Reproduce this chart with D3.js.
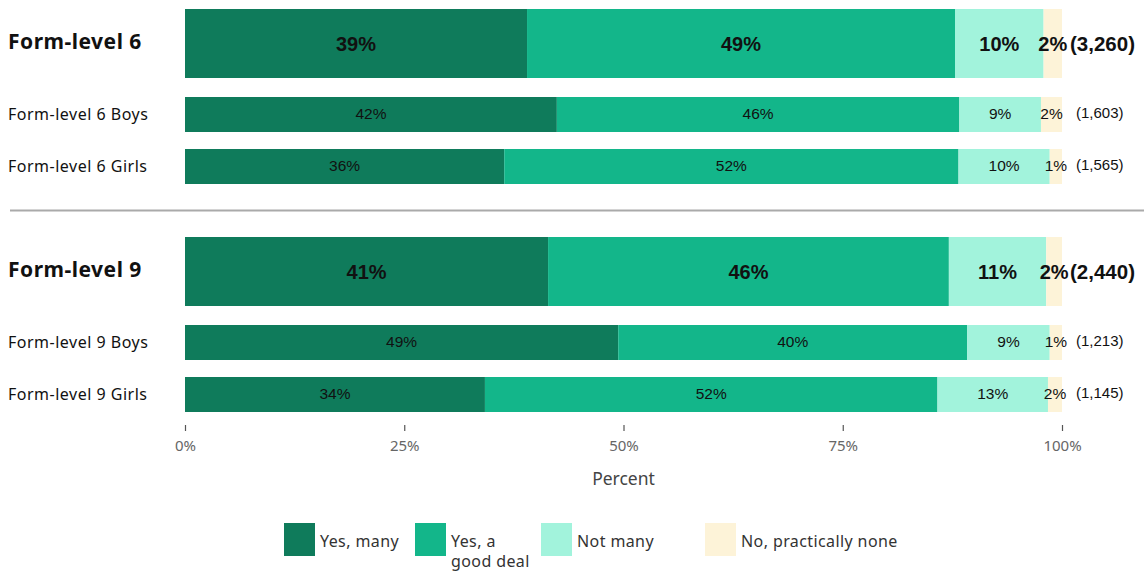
<!DOCTYPE html>
<html>
<head>
<meta charset="utf-8">
<script src="https://cdn.jsdelivr.net/npm/d3@7"></script>
<style>
  html, body { margin: 0; padding: 0; background: #fff; }
  svg { display: block; }
</style>
</head>
<body>
<svg id="chart" width="1144" height="572"></svg>
<script>
// Response categories, in stacking order
const responses = ["Yes, many", "Yes, a good deal", "Not many", "No, practically none"];
const legendLines = [["Yes, many"], ["Yes, a", "good deal"], ["Not many"], ["No, practically none"]];

// Rows: group, label, whether it is the group total, sample size
const groups = ["Form-level 6", "Form-level 9"];
const rowLabels = [
  "Form-level 6", "Form-level 6 Boys", "Form-level 6 Girls",
  "Form-level 9", "Form-level 9 Boys", "Form-level 9 Girls"
];
const rowGroup = [0, 0, 0, 1, 1, 1];
const rowIsTotal = [true, false, false, true, false, false];
const sampleSizes = ["(3,260)", "(1,603)", "(1,565)", "(2,440)", "(1,213)", "(1,145)"];

// Share of pupils per response (percent), one array per response
const yesMany     = [39.0, 42.4, 36.4, 41.4, 49.4, 34.2];
const yesGoodDeal = [48.8, 45.9, 51.8, 45.7, 39.8, 51.6];
const notMany     = [10.1,  9.3, 10.4, 11.1,  9.4, 12.6];
const practNone   = [ 2.1,  2.4,  1.4,  1.8,  1.4,  1.6];

const xTicks = [0, 25, 50, 75, 100];

const colors = ["#0f7b5b", "#13b68a", "#a2f3dc", "#fdf3d8"];

const seriesValues = [yesMany, yesGoodDeal, notMany, practNone];
const rows = rowLabels.map((label, i) => {
  const r = { label, group: rowGroup[i], total: rowIsTotal[i], n: sampleSizes[i] };
  responses.forEach((k, j) => { r[k] = seriesValues[j][i]; });
  return r;
});
const stacked = d3.stack().keys(responses)(rows);

const svg = d3.select("#chart");

const x = d3.scaleLinear().domain([0, 100]).range([185, 1062]);
const color = d3.scaleOrdinal().domain(responses).range(colors);

// Vertical layout: each facet holds a total bar and two sub-group bars
const groupY = d3.scaleBand().domain(groups).range([9, 465]).paddingInner(0).paddingOuter(0);
const withinTop = [0, 88, 140];
const barH = (r) => r.total ? 69 : 35;
const rowIndexInGroup = rows.map((r, i) => i - rows.findIndex(q => q.group === r.group));
const rowTop = (i) => groupY(groups[rows[i].group]) + withinTop[rowIndexInGroup[i]];
const rowMid = (i) => rowTop(i) + barH(rows[i]) / 2;

// Bars
const layer = svg.append("g").selectAll("g")
  .data(stacked).join("g")
  .attr("fill", d => color(d.key));

layer.selectAll("rect")
  .data(d => d.map((v, i) => ({ v, i })))
  .join("rect")
  .attr("x", d => x(d.v[0]))
  .attr("width", d => x(d.v[1]) - x(d.v[0]))
  .attr("y", d => rowTop(d.i))
  .attr("height", d => barH(rows[d.i]));

// Segment value labels
const labelFont = "'Liberation Sans', Arial, sans-serif";
stacked.forEach((s) => {
  s.forEach((v, i) => {
    const r = rows[i];
    const val = v[1] - v[0];
    svg.append("text")
      .attr("x", (x(v[0]) + x(v[1])) / 2)
      .attr("y", rowMid(i) - (r.total ? 0 : 1))
      .attr("dy", "0.35em")
      .attr("text-anchor", "middle")
      .attr("font-family", labelFont)
      .attr("font-size", r.total ? 20 : 15.5)
      .attr("font-weight", r.total ? "bold" : "normal")
      .attr("fill", "#111")
      .text(Math.round(val) + "%");
  });
});

// Sample sizes
rows.forEach((r, i) => {
  svg.append("text")
    .attr("x", r.total ? 1070 : 1076)
    .attr("y", rowMid(i) - (r.total ? 0 : 2))
    .attr("dy", "0.35em")
    .attr("font-family", labelFont)
    .attr("font-size", r.total ? 20.5 : 15)
    .attr("font-weight", r.total ? "bold" : "normal")
    .attr("fill", "#111")
    .text(r.n);
});

// Row labels
const catFont = "'Noto Sans', 'Open Sans', sans-serif";
rows.forEach((r, i) => {
  svg.append("text")
    .attr("x", 8)
    .attr("y", rowMid(i) + (r.total ? -2 : 0))
    .attr("dy", "0.35em")
    .attr("font-family", catFont)
    .attr("font-size", r.total ? 21 : 16)
    .attr("letter-spacing", 0.5)
    .attr("font-weight", r.total ? "bold" : "normal")
    .attr("fill", "#111")
    .text(r.label);
});

// Facet separator
svg.append("line")
  .attr("x1", 10).attr("x2", 1144)
  .attr("y1", 210.5).attr("y2", 210.5)
  .attr("stroke", "#aaa").attr("stroke-width", 2);

// X axis
const axisFont = "'Noto Sans', 'Open Sans', sans-serif";
const axis = svg.append("g")
  .attr("transform", "translate(0,425)")
  .call(d3.axisBottom(x).tickValues(xTicks).tickFormat(d => d + "%").tickSize(6).tickPadding(9));
axis.select(".domain").remove();
axis.selectAll(".tick line").attr("stroke", "#555").attr("stroke-width", 1.2);
axis.selectAll(".tick text")
  .attr("font-family", axisFont).attr("font-size", 15).attr("fill", "#666");

svg.append("text")
  .attr("x", x(50)).attr("y", 485)
  .attr("text-anchor", "middle")
  .attr("font-family", axisFont).attr("font-size", 17.5).attr("fill", "#444")
  .text("Percent");

// Legend: swatch plus one text element per line
const legendX = [284, 415, 541, 705];
const legend = svg.append("g");
responses.forEach((k, j) => {
  const g = legend.append("g").attr("transform", `translate(${legendX[j]},523)`);
  g.append("rect").attr("width", 31).attr("height", 33).attr("fill", color(k));
  legendLines[j].forEach((line, li) => {
    g.append("text")
      .attr("x", 36).attr("y", 24 + li * 20)
      .attr("font-family", axisFont).attr("font-size", 16)
      .attr("letter-spacing", 0.4).attr("fill", "#333")
      .text(line);
  });
});
</script>
</body>
</html>
